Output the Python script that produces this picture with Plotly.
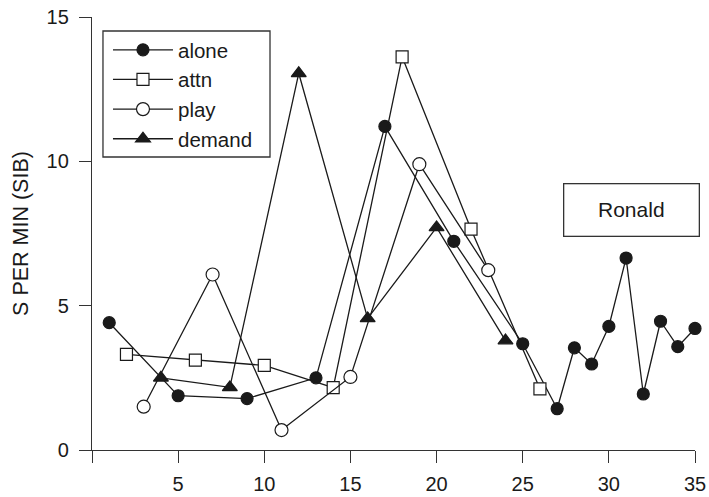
import plotly.graph_objects as go

alone_x = [1, 5, 9, 13, 17, 21, 25, 27, 28, 29, 30, 31, 32, 33, 34, 35]
alone_y = [4.41, 1.88, 1.78, 2.50, 11.21, 7.23, 3.68, 1.43, 3.54, 2.98, 4.28, 6.65, 1.94, 4.46, 3.58, 4.21]

attn_x = [2, 6, 10, 14, 18, 22, 26]
attn_y = [3.31, 3.11, 2.93, 2.16, 13.62, 7.65, 2.12]

play_x = [3, 7, 11, 15, 19, 23]
play_y = [1.50, 6.08, 0.69, 2.53, 9.90, 6.23]

demand_x = [4, 8, 12, 16, 20, 24]
demand_y = [2.50, 2.17, 13.05, 4.56, 7.71, 3.79]

x_ticks = [0, 5, 10, 15, 20, 25, 30, 35]
x_ticktext = ["", "5", "10", "15", "20", "25", "30", "35"]
y_ticks = [0, 5, 10, 15]

INK = "#1a1a1a"
FONT = "Arial, Liberation Sans, Helvetica, sans-serif"
FS = 20
FS_TXT = 21

fig = go.Figure()

series = [
    ("alone", alone_x, alone_y, "circle", INK, 12),
    ("attn", attn_x, attn_y, "square", "white", 12),
    ("play", play_x, play_y, "circle", "white", 13),
    ("demand", demand_x, demand_y, "triangle-up", INK, 13),
]
for name, xs, ys, sym, fill, size in series:
    fig.add_trace(go.Scatter(
        x=xs, y=ys, name=name, mode="lines+markers",
        line=dict(color=INK, width=1.3),
        marker=dict(symbol=sym, size=size, color=fill,
                    line=dict(color=INK, width=1.2)),
        cliponaxis=False,
    ))

fig.add_annotation(
    x=31.3, y=8.31, xref="x", yref="y", text="Ronald", showarrow=False,
    font=dict(family=FONT, size=FS_TXT, color=INK),
    width=132, height=49, bordercolor="#333", borderwidth=1.3,
    bgcolor="white",
)

# legend frame (decorative box around the legend entries)
fig.add_shape(
    type="rect", xref="paper", yref="paper",
    x0=0.0182, x1=0.2952, y0=0.6767, y1=0.9677,
    line=dict(color="#333", width=1.3), fillcolor="rgba(0,0,0,0)", layer="above",
)

fig.update_layout(
    width=709, height=497,
    margin=dict(l=92, r=14, t=17, b=47, autoexpand=False),
    paper_bgcolor="white", plot_bgcolor="white",
    font=dict(family=FONT, size=FS, color=INK),
    showlegend=True,
    legend=dict(
        x=0.0265, y=0.97, xanchor="left", yanchor="top",
        borderwidth=0, bgcolor="rgba(255,255,255,0)",
        font=dict(family=FONT, size=20.5, color=INK),
        itemwidth=60, tracegroupgap=0,
    ),
    xaxis=dict(
        range=[0, 35], tickvals=x_ticks, ticktext=x_ticktext,
        showgrid=False, zeroline=False, showline=True, automargin=False,
        linecolor="#333", linewidth=1.3,
        ticks="outside", ticklen=12, tickwidth=1.3, tickcolor="#333",
        tickfont=dict(family=FONT, size=FS, color=INK),
        ticklabelstandoff=4,
    ),
    yaxis=dict(
        range=[0, 15], tickvals=y_ticks, automargin=False,
        showgrid=False, zeroline=False, showline=True,
        linecolor="#333", linewidth=1.3,
        ticks="outside", ticklen=12, tickwidth=1.3, tickcolor="#333",
        tickfont=dict(family=FONT, size=FS, color=INK),
        ticklabelstandoff=6,
        title=dict(text="S PER MIN (SIB)", font=dict(family=FONT, size=21.5, color=INK), standoff=12),
    ),
)

fig.write_html("out.html")
